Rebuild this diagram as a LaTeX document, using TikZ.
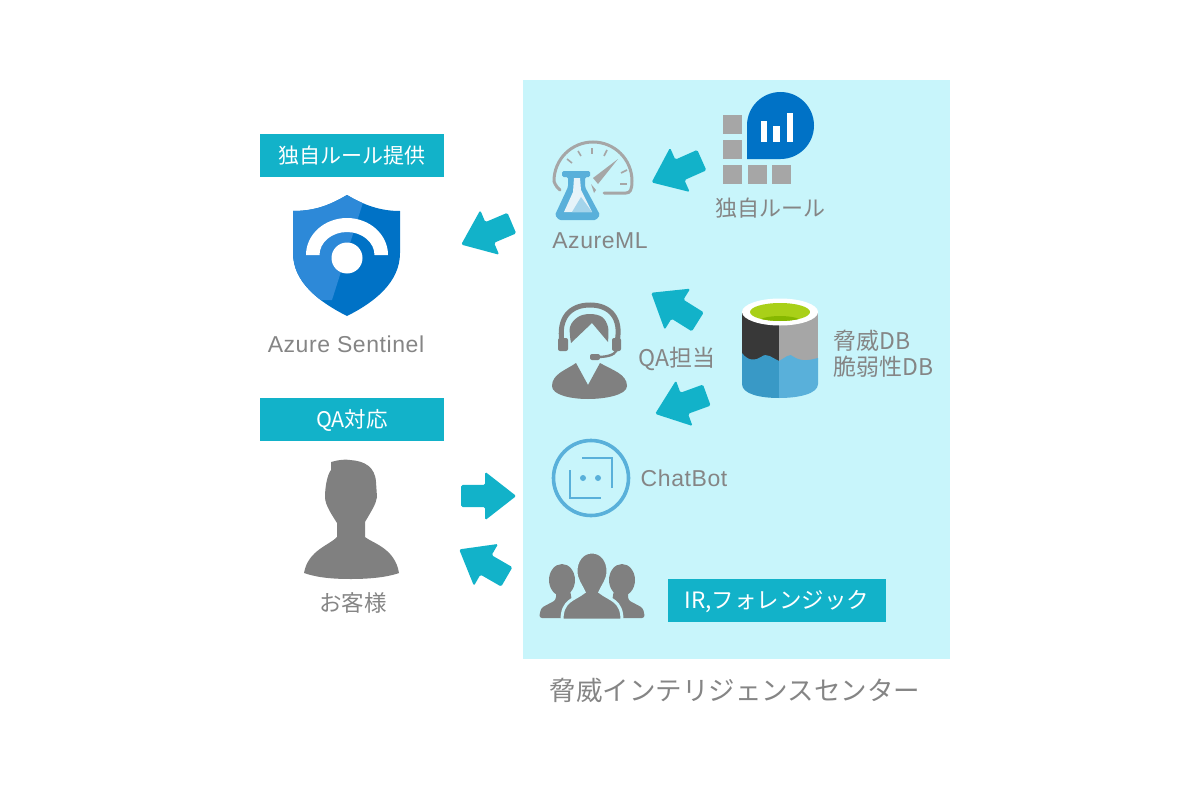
\documentclass[tikz,border=0pt]{standalone}
\usepackage{fontspec}
\setmainfont{Noto Sans CJK JP}
\newfontfamily\latinfont[LetterSpace=2.5]{Liberation Sans}
\usetikzlibrary{shapes.arrows}
\definecolor{panelblue}{HTML}{C8F5FB}
\definecolor{tealbox}{HTML}{12B2C9}
\definecolor{labelgray}{HTML}{858585}
\definecolor{icongray}{HTML}{808080}
\definecolor{azuredark}{HTML}{0072C6}
\definecolor{azurelight}{HTML}{2D89D8}
\definecolor{skyblue}{HTML}{59B0DA}
\definecolor{dbblue}{HTML}{3999C6}
\definecolor{squaregray}{HTML}{A6A6A6}
\definecolor{limegreen}{HTML}{A9D018}
\definecolor{deepgreen}{HTML}{86B800}
\tikzset{
  tagbox/.style={fill=tealbox, text=white, minimum height=43pt, inner sep=0pt, text height=16pt, text depth=0pt, font=\fontsize{21.5}{25}\selectfont},
  caption/.style={text=labelgray, inner sep=0pt, font=\fontsize{22.5}{26}\selectfont},
  latincaption/.style={caption, font=\fontsize{23}{27}\selectfont\latinfont},
  fatarrow/.style={shape=single arrow, anchor=tail, fill=tealbox, inner xsep=0pt, inner ysep=11pt, rounded corners=1.5pt,
    minimum height=55pt, single arrow head extend=13pt, single arrow tip angle=76},
  rulesquare/.style={fill=squaregray},
}
\begin{document}
\begin{tikzpicture}[x=1pt,y=-1pt]
\useasboundingbox (0,0) rectangle (1200,800);
\fill[panelblue] (523,80) rectangle (950,659);

% labels on teal
\node[tagbox, minimum width=184pt, font=\fontsize{21}{25}\selectfont] (ruletag) at (352,155) {独自ルール提供};
\node[tagbox, minimum width=184pt] (qatag) at (352,419) {QA対応};
\node[tagbox, minimum width=218pt, font=\fontsize{22.5}{25}\selectfont] (irtag) at (777,600) {IR,フォレンジック};

% arrows
\node[fatarrow, rotate=204] (arrowrule) at (702,160) {};
\node[fatarrow, rotate=203] (arrowsentinel) at (512,223) {};
\node[fatarrow, rotate=148] (arrowqa) at (698,322) {};
\node[fatarrow, rotate=200] (arrowbot) at (707,395) {};
\node[fatarrow] (arrowin) at (461,496) {};
\node[fatarrow, rotate=150] (arrowout) at (507,577) {};

% sentinel shield
\begin{scope}
\clip (293,211) .. controls (315,211) and (330,205) .. (347,195)
  .. controls (364,205) and (380,211) .. (400,211) -- (400,253)
  .. controls (400,282) and (375,302) .. (347,316)
  .. controls (319,302) and (293,282) .. (293,253) -- cycle;
\fill[azuredark] (285,190) rectangle (410,320);
\fill[azurelight] (285,190) -- (367,190) -- (332,300) -- (285,300) -- cycle;
\end{scope}
\fill[white] (306,255) arc[start angle=180, end angle=360, x radius=41, y radius=37]
  -- (374.5,255) arc[start angle=360, end angle=180, x radius=27.5, y radius=23] -- cycle;
\fill[white] (347,258) circle (15.5);

% customer
\fill[icongray] (331,462) .. controls (338,460) and (345,459) .. (350,460)
  .. controls (365,461) and (375,467) .. (376,482) -- (377,497)
  .. controls (376,504) and (372,510) .. (365,522) -- (365,537)
  .. controls (372,543) and (395,548) .. (399,573)
  .. controls (385,578) and (365,579) .. (351,579)
  .. controls (335,579) and (318,578) .. (304,573)
  .. controls (308,550) and (330,545) .. (337,537) -- (337,523)
  .. controls (332,515) and (325,505) .. (325,497)
  .. controls (325,488) and (327,475) .. (331,470) -- cycle;

% azureml gauge
\draw[squaregray, line width=3pt, line cap=round] (560,190) .. controls (555,186) and (554,181) .. (554,181)
  arc (180:360:39) .. controls (632,190) and (630,193) .. (626,193) -- (604,193);
\foreach \xa/\ya/\xb/\yb in {567/159/572/163, 578/151/581/156, 592/148/592/154, 607/150/604/156, 627/170/621/173, 627/184/620/184}
  \draw[squaregray, line width=1.6pt] (\xa,\ya) -- (\xb,\yb);
\fill[squaregray] (593,178) -- (618,159) -- (598,184) -- cycle;
\fill[squaregray] (591,184) -- (596,190) -- (594,193) -- cycle;
\fill[skyblue, rounded corners=1.5pt] (562,171) -- (590,171) -- (590,177) -- (585,177) -- (585,187) -- (600,215)
  -- (596,220) -- (559,220) -- (555,215) -- (568,187) -- (568,177) -- (562,177) -- cycle;
\fill[white!85!skyblue] (574,178) -- (580,178) -- (581,190) -- (592,212) -- (564,212) -- (573,192) -- cycle;
\fill[skyblue!55!white] (581,197) -- (592,212) -- (572,212) -- cycle;

% rule icon
\foreach \ya in {115,140,165}
  \fill[rulesquare] (723,\ya) rectangle ++(19,19);
\foreach \xa in {748,772}
  \fill[rulesquare] (\xa,165) rectangle ++(19,19);
\fill[azuredark] (747,125.5) arc (180:360:33.5) arc (0:90:33.5) -- (747,159) -- cycle;
\fill[white] (761,121) rectangle (767,142);
\fill[white] (773,126) rectangle (780,142);
\fill[white] (787,113) rectangle (793,142);

% agent
\draw[icongray, line width=5pt] (562,342) .. controls (558,318) and (570,305) .. (590,305)
  .. controls (610,305) and (622,318) .. (617,342);
\fill[icongray] plot[smooth, tension=0.6] coordinates {(571,343) (570,327) (578,317) (590,314) (602,317) (608,327) (608,342)}
  -- (592,323) -- cycle;
\fill[icongray, rounded corners=2pt] (558,338) rectangle (568,351);
\fill[icongray, rounded corners=2pt] (612,338) rectangle (621,351);
\draw[icongray, line width=2.4pt] (617,350) .. controls (614,356) and (605,357) .. (596,357);
\fill[icongray, rounded corners=2pt] (590,354) rectangle (600,360);
\fill[icongray] (576,363) -- (588,385) -- (600,363)
  .. controls (612,370) and (627,374) .. (627,386)
  .. controls (627,395) and (605,399) .. (588,399)
  .. controls (571,399) and (552,395) .. (552,386)
  .. controls (552,374) and (566,370) .. (576,363) -- cycle;

% database
\fill[black!78] (742,312) -- (779,312) -- (779,370) -- (742,370) -- cycle;
\fill[squaregray] (779,312) -- (818,312) -- (818,370) -- (779,370) -- cycle;
\fill[dbblue] (742,353) .. controls (748,361) and (755,361) .. (761,357)
  .. controls (767,352) and (772,358) .. (779,361) -- (779,398)
  .. controls (760,398) and (742,394) .. (742,384) -- cycle;
\fill[skyblue] (779,361) .. controls (785,358) and (790,352) .. (794,357)
  .. controls (802,362) and (810,360) .. (818,358) -- (818,384)
  .. controls (818,394) and (798,398) .. (779,398) -- cycle;
\fill[white] (780,312) ellipse (38 and 13.5);
\begin{scope}
\clip (780,312) ellipse (30 and 9);
\fill[limegreen] (750,303) rectangle (810,321);
\fill[deepgreen] (780,322) ellipse (22 and 6);
\end{scope}

% chatbot
\draw[skyblue, line width=3.6pt] (591,478) circle (37.5);
\draw[skyblue, line width=2.6pt] (582,458) -- (612,458) -- (612,488);
\draw[skyblue, line width=2.6pt] (570,470) -- (570,498) -- (601,498);
\fill[skyblue] (583,478) circle (3);
\fill[skyblue] (598,478) circle (3);

% team
\fill[icongray] (562,580) ellipse (13 and 16);
\fill[icongray] (622,580) ellipse (13 and 16);
\fill[icongray, rounded corners=3pt] (539,618) -- (541,608) -- (556,600) -- (556,590) -- (570,590) -- (575,618) -- cycle;
\fill[icongray, rounded corners=3pt] (645,618) -- (643,608) -- (628,600) -- (628,590) -- (614,590) -- (609,618) -- cycle;
\draw[panelblue, line width=3pt, fill=icongray] (592,552) .. controls (602,552) and (608,561) .. (608,571)
  .. controls (608,580) and (603,585) .. (600,592) .. controls (610,600) and (622,600) .. (622,620)
  -- (562,620) .. controls (562,600) and (574,600) .. (584,592)
  .. controls (581,585) and (576,580) .. (576,571) .. controls (576,561) and (582,552) .. (592,552) -- cycle;

% captions
\node[latincaption] (sentinellabel) at (346,344) {Azure Sentinel};
\node[caption] (customerlabel) at (353,603) {お客様};
\node[latincaption] (azuremllabel) at (600,241) {AzureML};
\node[caption, font=\fontsize{22}{26}\selectfont] (rulelabel) at (770,208) {独自ルール};
\node[caption, font=\fontsize{23}{27}\selectfont] (agentlabel) at (677,359) {QA担当};
\node[caption, anchor=west, font=\fontsize{23}{27}\selectfont] (threatlabel) at (833,341) {脅威DB};
\node[caption, anchor=west, font=\fontsize{23}{27}\selectfont] (vulnlabel) at (833,367) {脆弱性DB};
\node[latincaption] (botlabel) at (684,478) {ChatBot};
\node[caption, font=\fontsize{26.5}{30}\selectfont] (centerlabel) at (735,690) {脅威インテリジェンスセンター};
\end{tikzpicture}
\end{document}
